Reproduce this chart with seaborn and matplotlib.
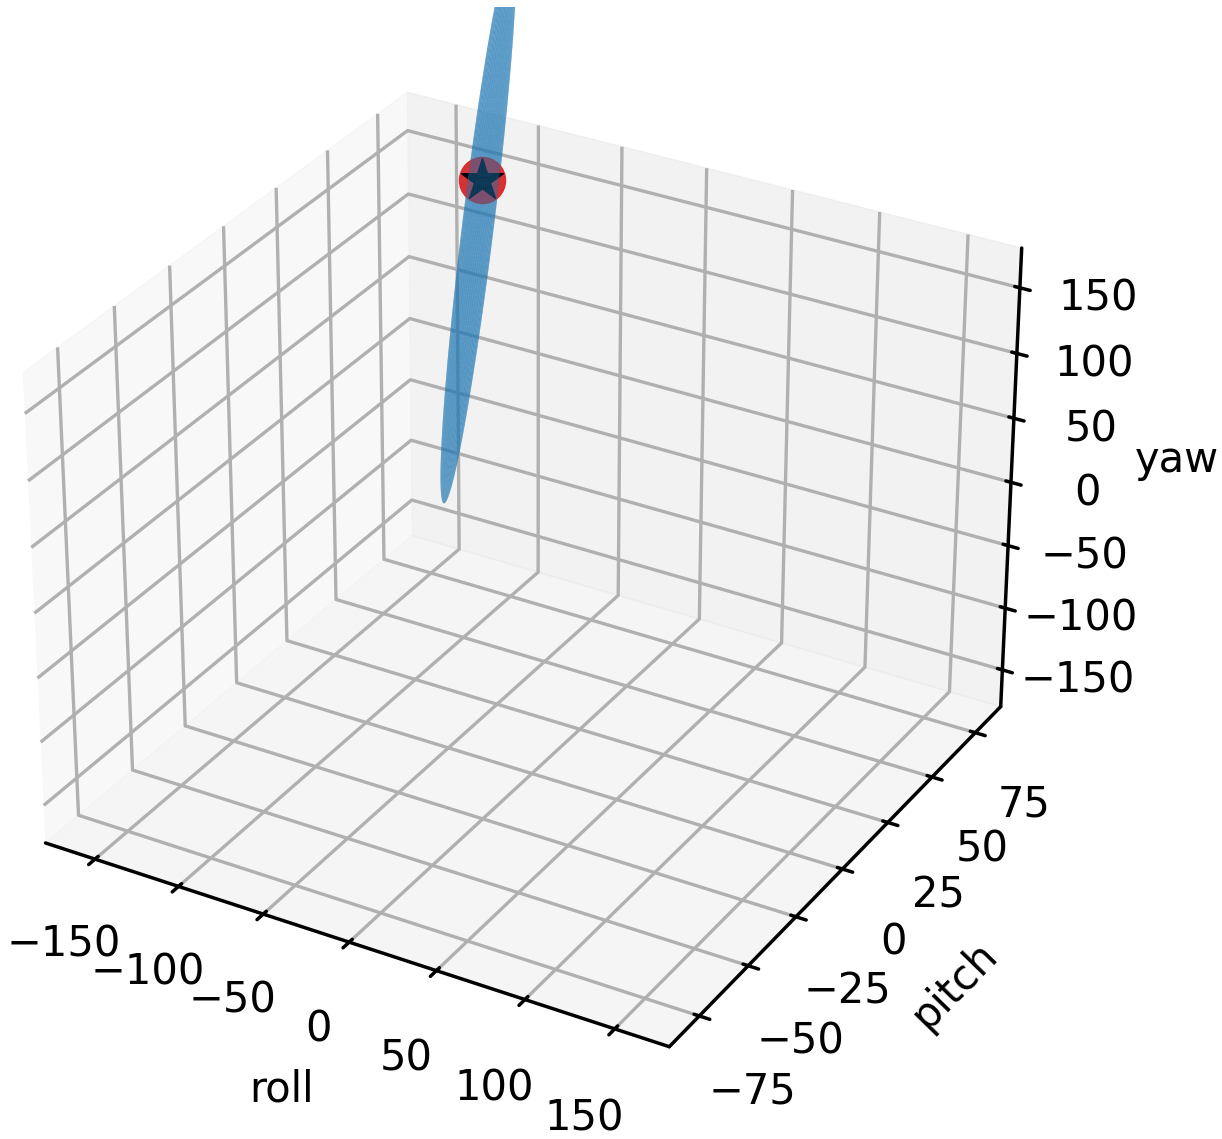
"""Pose ellipsoid with estimate and ground truth in roll/pitch/yaw space."""

import matplotlib
matplotlib.use("Agg")
import matplotlib.pyplot as plt
from matplotlib.patches import Rectangle
import numpy as np
import seaborn as sns

axis_limit_roll = [-180, 180]
axis_limit_pitch = [-90, 90]
axis_limit_yaw = [-180, 180]
roll_ticks = [-150, -100, -50, 0, 50, 100, 150]
pitch_ticks = [-75, -50, -25, 0, 25, 50, 75]
yaw_ticks = [-150, -100, -50, 0, 50, 100, 150]

ellipsoid_center = [-96, 55, 140]
ellipsoid_radii = [8, 4.5, 223]
ellipsoid_tilt_deg = [0, 5.5, 2]
estimate_point = [-93, 55, 180]
truth_point = [-93, 55, 180]

sns.set_style("white")
plt.rcParams["font.family"] = "DejaVu Sans"
plt.rcParams.update({"text.color": "black", "axes.labelcolor": "black", "xtick.color": "black",
                     "ytick.color": "black", "axes.edgecolor": "black"})

fig = plt.figure(figsize=(12.22, 11.39), dpi=100)
ax = fig.add_axes([-0.0645, 0.0195, 0.975, 0.975], projection="3d")
ax.computed_zorder = False


def draw_half(u_from, u_to, zorder):
    # back and front of the ellipsoid are separate so the markers sit between them
    u, v = np.meshgrid(np.radians(np.linspace(u_from, u_to, 25)), np.linspace(0, np.pi, 80))
    sphere = np.stack([np.cos(u) * np.sin(v), np.sin(u) * np.sin(v), np.cos(v)])
    scaled = sphere * np.array(ellipsoid_radii)[:, None, None]
    tx, ty, _ = np.radians(ellipsoid_tilt_deg)
    x = scaled[0] + scaled[2] * np.sin(ty)
    y = scaled[1] + scaled[2] * np.sin(tx)
    surface = ax.plot_surface(x + ellipsoid_center[0], y + ellipsoid_center[1], scaled[2] + ellipsoid_center[2],
                              color="#1f77b4", alpha=0.5, linewidth=0, rstride=1, cstride=1, shade=False, zorder=zorder)
    surface.set_clip_path(Rectangle((0, 0), 1, 1 - 7 / 1139, transform=fig.transFigure))


draw_half(18, 198, 0)
ax.scatter(*[[c] for c in estimate_point], s=1100, color="#d62728", alpha=0.95, depthshade=False, zorder=1)
ax.scatter(*[[c] for c in truth_point], s=1000, color="black", marker="*", edgecolors="black",
           linewidths=1, depthshade=False, zorder=2)
draw_half(-162, 18, 3)

ax.set_xlim(axis_limit_roll)
ax.set_ylim(axis_limit_pitch)
ax.set_zlim(axis_limit_yaw)
ax.set_xticks(roll_ticks)
ax.set_yticks(pitch_ticks)
ax.set_zticks(yaw_ticks)
ax.set_xlabel("roll", fontsize=30, labelpad=54)
ax.set_ylabel("pitch", fontsize=30, labelpad=54)
ax.set_zlabel("yaw", fontsize=30, labelpad=53)
ax.tick_params(labelsize=30, pad=26, width=2.5, length=8)
for axis in (ax.xaxis, ax.yaxis, ax.zaxis):
    axis._axinfo["grid"]["color"] = "#b0b0b0"
    axis._axinfo["grid"]["linewidth"] = 2.4
    axis._axinfo["tick"]["linewidth"] = {True: 2.5, False: 2.5}
    axis._axinfo["axisline"]["linewidth"] = 2.5
    axis.line.set_linewidth(2.5)

fig.savefig("out.png", dpi=100)
plt.close(fig)
